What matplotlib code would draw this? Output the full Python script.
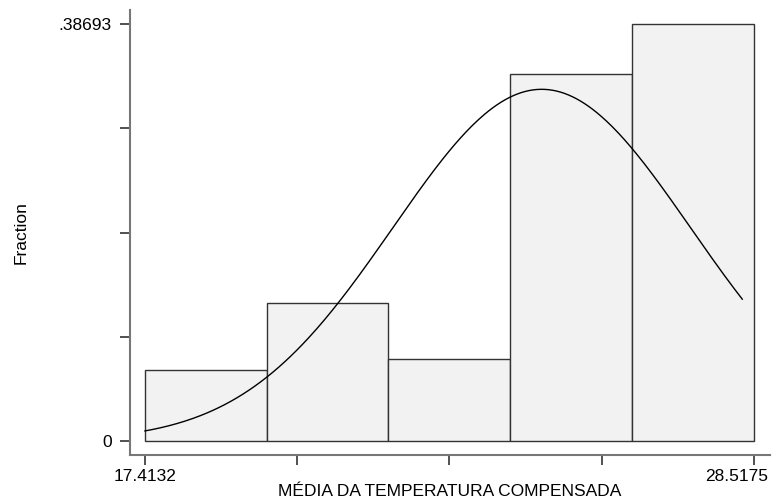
import numpy as np
import matplotlib.pyplot as plt
import matplotlib.transforms as mtransforms

# histogram of MEDIA DA TEMPERATURA COMPENSADA, 5 bins, with normal overlay
x_min = 17.4132
x_max = 28.5175
fractions = [0.0659, 0.1283, 0.0764, 0.3405, 0.38693]

# fitted normal curve (mean, sd) and the range it is drawn over
mean = 24.65
sd = 2.715
curve_end = 28.309

y_top = 0.38693
y_labels = ['0', '.38693']
x_labels = ['17.4132', '28.5175']

plt.rcParams['font.family'] = ['Liberation Sans', 'DejaVu Sans']

fig = plt.figure(figsize=(7.72, 5.04), dpi=100)
ax = fig.add_axes([129.7 / 772, 49 / 504, (770 - 129.7) / 772, (455 - 10) / 504])

edges = np.linspace(x_min, x_max, len(fractions) + 1)
width = edges[1] - edges[0]
ax.bar(edges[:-1], fractions, width=width, align='edge',
       color='#f2f2f2', edgecolor='#333333', linewidth=1.0)

# normal density scaled to fraction per bin
xs = np.linspace(x_min, curve_end, 300)
ys = width * np.exp(-0.5 * ((xs - mean) / sd) ** 2) / (sd * np.sqrt(2 * np.pi))
ax.plot(xs, ys, color='black', linewidth=1.0)

px_per_x = 608.7 / (x_max - x_min)
px_per_y = 417 / y_top
ax.set_xlim(x_min - 15.3 / px_per_x, x_max + 16.3 / px_per_x)
ax.set_ylim(-14 / px_per_y, y_top + 14 / px_per_y)

ax.set_xticks(np.linspace(x_min, x_max, 5))
ax.set_xticklabels([x_labels[0], '', '', '', x_labels[1]])
ax.set_yticks(np.linspace(0, y_top, 5))
ax.set_yticklabels([y_labels[0], '', '', '', y_labels[1]])

for side in ['top', 'right']:
    ax.spines[side].set_visible(False)
for side in ['left', 'bottom']:
    ax.spines[side].set_color('#777777')
    ax.spines[side].set_linewidth(1.5)
ax.tick_params(axis='both', direction='out', length=7, width=1.2,
               color='#333333', labelsize=12.5, pad=3)
ax.tick_params(axis='y', pad=6)

# last x label is pulled left so it stays inside the picture
last = ax.get_xticklabels()[-1]
last.set_transform(last.get_transform() +
                   mtransforms.ScaledTranslation(-17 / 100, 0, fig.dpi_scale_trans))

ax.set_xlabel('MÉDIA DA TEMPERATURA COMPENSADA', fontsize=12.5)
ax.set_ylabel('Fraction', fontsize=12.5)
ax.xaxis.set_label_coords((449.5 - 129.7) / (770 - 129.7), -29 / 445)
ax.yaxis.set_label_coords(-101 / 640.3, (455 - 232.5) / 445)

fig.savefig('out.png', dpi=100)
